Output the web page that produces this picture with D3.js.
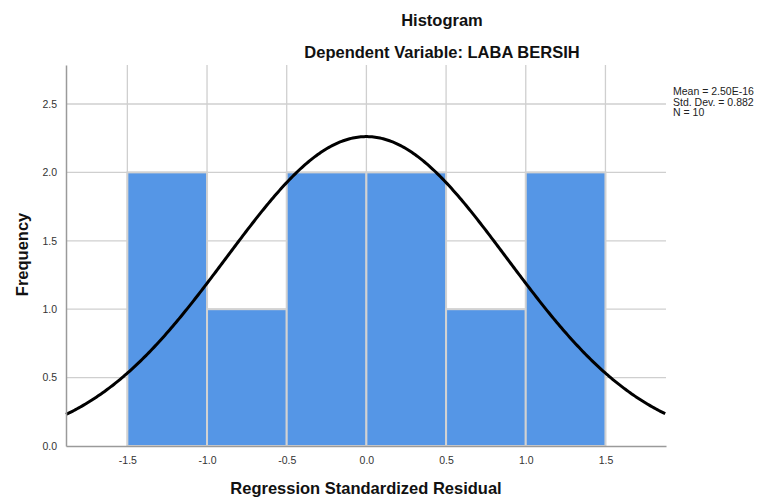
<!DOCTYPE html>
<html>
<head>
<meta charset="utf-8">
<script src="https://cdn.jsdelivr.net/npm/d3@7"></script>
<style>
  body { margin: 0; background: #fff; }
  svg text { font-family: "Liberation Sans", Arial, sans-serif; }
</style>
</head>
<body>
<div id="chart"></div>
<script>
  /* DATA */
  const binStarts = [-1.5, -1.0, -0.5, 0.0, 0.5, 1.0];
  const binWidth = 0.5;
  const frequencies = [2, 1, 2, 2, 1, 2];
  const xTicks = [-1.5, -1.0, -0.5, 0.0, 0.5, 1.0, 1.5];
  const yTicks = [0, 0.5, 1.0, 1.5, 2.0, 2.5];
  const stats = { mean: 2.50e-16, sd: 0.882, n: 10 };
  const statLabels = ["Mean = 2.50E-16", "Std. Dev. = 0.882", "N = 10"];

  /* CONSTANTS */
  const width = 761, height = 498;
  const margin = { top: 65, bottom: 52, left: 66, right: 95 };

  const svg = d3.select("#chart")
    .append("svg")
    .attr("width", width)
    .attr("height", height);

  // scales
  const xScale = d3.scaleLinear()
    .domain([-1.885, 1.88])
    .range([margin.left, width - margin.right]);

  const yScale = d3.scaleLinear()
    .domain([0, 2.785])
    .range([height - margin.bottom, margin.top]);

  // gridlines
  svg.append("g")
    .selectAll("line")
    .data(yTicks.filter(d => d > 0))
    .join("line")
    .attr("x1", margin.left)
    .attr("x2", width - margin.right)
    .attr("y1", d => yScale(d))
    .attr("y2", d => yScale(d))
    .attr("stroke", "#cfcfcf")
    .attr("stroke-width", 1.3);

  svg.append("g")
    .selectAll("line")
    .data(xTicks)
    .join("line")
    .attr("x1", d => xScale(d))
    .attr("x2", d => xScale(d))
    .attr("y1", margin.top)
    .attr("y2", height - margin.bottom)
    .attr("stroke", "#cfcfcf")
    .attr("stroke-width", 1.3);

  // bars
  svg.append("g")
    .selectAll("rect")
    .data(binStarts.map((s, i) => ({ x0: s, x1: s + binWidth, f: frequencies[i] })))
    .join("rect")
    .attr("x", d => xScale(d.x0))
    .attr("width", d => xScale(d.x1) - xScale(d.x0))
    .attr("y", d => yScale(d.f))
    .attr("height", d => yScale(0) - yScale(d.f))
    .attr("fill", "#5596e6")
    .attr("stroke", "#d2d2d2")
    .attr("stroke-width", 2);

  // normal curve
  const pdf = x => Math.exp(-0.5 * Math.pow((x - stats.mean) / stats.sd, 2)) /
    (stats.sd * Math.sqrt(2 * Math.PI));
  const curveData = d3.range(xScale.domain()[0], xScale.domain()[1] + 0.001, 0.01)
    .map(x => ({ x: x, y: stats.n * binWidth * pdf(x) }));

  const lineGen = d3.line()
    .x(d => xScale(d.x))
    .y(d => yScale(d.y));

  svg.append("path")
    .datum(curveData)
    .attr("d", lineGen)
    .attr("fill", "none")
    .attr("stroke", "#000")
    .attr("stroke-width", 3);

  // axes (plain hyphen for negatives, like the original)
  const fmt = d => d3.format(".1f")(d).replace("\u2212", "-");

  const xAxis = d3.axisBottom(xScale)
    .tickValues(xTicks)
    .tickFormat(fmt)
    .tickSize(0)
    .tickPadding(11);

  const yAxis = d3.axisLeft(yScale)
    .tickValues(yTicks)
    .tickFormat(fmt)
    .tickSize(0)
    .tickPadding(9);

  const xAxisGroup = svg.append("g")
    .attr("transform", `translate(0,${height - margin.bottom})`)
    .call(xAxis);

  const yAxisGroup = svg.append("g")
    .attr("transform", `translate(${margin.left},0)`)
    .call(yAxis);

  [xAxisGroup, yAxisGroup].forEach(g => {
    g.select(".domain").attr("stroke", "#9a9a9a").attr("stroke-width", 1.5);
    g.selectAll("text")
      .attr("fill", "#333")
      .style("font-size", "10.5px")
      .style("font-family", "Liberation Sans, Arial, sans-serif");
  });

  // titles
  svg.append("text")
    .attr("x", 442)
    .attr("y", 26)
    .attr("text-anchor", "middle")
    .style("font-size", "16.5px")
    .style("font-weight", "bold")
    .attr("fill", "#111")
    .text("Histogram");

  svg.append("text")
    .attr("x", 442)
    .attr("y", 58)
    .attr("text-anchor", "middle")
    .style("font-size", "16.5px")
    .style("font-weight", "bold")
    .attr("fill", "#111")
    .text("Dependent Variable: LABA BERSIH");

  svg.append("text")
    .attr("x", 366)
    .attr("y", 494)
    .attr("text-anchor", "middle")
    .style("font-size", "16.5px")
    .style("font-weight", "bold")
    .attr("fill", "#111")
    .text("Regression Standardized Residual");

  svg.append("text")
    .attr("transform", `translate(28,${yScale(1.4)}) rotate(-90)`)
    .attr("text-anchor", "middle")
    .style("font-size", "16.5px")
    .style("font-weight", "bold")
    .attr("fill", "#111")
    .text("Frequency");

  // stats legend
  svg.append("g")
    .selectAll("text")
    .data(statLabels)
    .join("text")
    .attr("x", 673)
    .attr("y", (d, i) => 95 + i * 10.5)
    .style("font-size", "10.5px")
    .attr("fill", "#222")
    .text(d => d);
</script>
</body>
</html>
